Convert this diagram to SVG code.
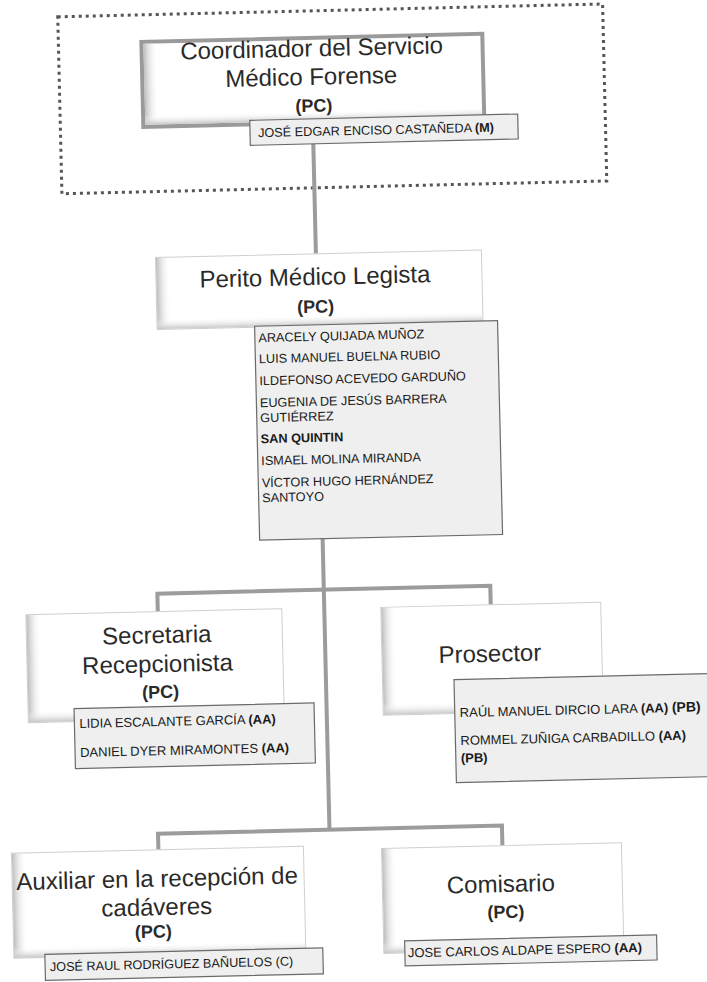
<svg xmlns="http://www.w3.org/2000/svg" width="707" height="982" viewBox="0 0 707 982">
<defs>
<style>
.t{font-family:"Liberation Sans",Arial,sans-serif;font-size:24px;fill:#2a2a2a;text-anchor:middle}
.pc{font-family:"Liberation Sans",Arial,sans-serif;font-size:18px;font-weight:bold;fill:#2a2a2a;text-anchor:middle}
.n{font-family:"Liberation Sans",Arial,sans-serif;font-size:12.7px;fill:#1a1a1a}
.n13{font-family:"Liberation Sans",Arial,sans-serif;font-size:13px;fill:#1a1a1a}
.b{font-weight:bold}
.box{fill:#ffffff;stroke:#cfcfcf;stroke-width:1}
.nb{fill:#efefef;stroke:#6a6a6a;stroke-width:1.2}
.conn{stroke:#9c9c9c;stroke-width:4;fill:none}
.gl{fill:url(#gl)}
.gb{fill:url(#gb)}
</style>
<linearGradient id="gl" x1="0" y1="0" x2="1" y2="0">
<stop offset="0" stop-color="#bdbdbd" stop-opacity="1"/>
<stop offset="1" stop-color="#ffffff" stop-opacity="0"/>
</linearGradient>
<linearGradient id="gb" x1="0" y1="0" x2="0" y2="1">
<stop offset="0" stop-color="#ffffff" stop-opacity="0"/>
<stop offset="1" stop-color="#c8c8c8" stop-opacity="1"/>
</linearGradient>
</defs>
<rect x="0" y="0" width="707" height="982" fill="#ffffff"/>
<g transform="rotate(-1.35 353 491)">
<rect id="frame" x="69" y="10" width="545" height="177" fill="none" stroke="#555" stroke-width="3" stroke-dasharray="3 4"/>
<g id="connectors">
<line class="conn" x1="321.5" y1="143" x2="321.5" y2="253"/>
<line class="conn" x1="321.5" y1="536" x2="321.5" y2="829"/>
<polyline class="conn" points="155,608 155,589 488,589 488,608"/>
<polyline class="conn" points="150,845 150,829 494,829 494,849"/>
</g>
<g id="coordinador">
<rect x="152" y="37" width="341" height="85" fill="#fff" stroke="#9a9a9a" stroke-width="4"/>
<rect class="gl" x="154" y="39" width="14" height="81"/>
<rect class="gb" x="154" y="110" width="337" height="10"/>
<text class="t" x="322" y="55.5">Coordinador del Servicio</text>
<text class="t" x="321" y="84">Médico Forense</text>
<text class="pc" x="323" y="111">(PC)</text>
</g>
<g id="coordinador-nombre">
<rect class="nb" x="258.5" y="118" width="268" height="25"/>
<text class="n" x="266.5" y="135">JOSÉ EDGAR ENCISO CASTAÑEDA <tspan class="b">(M)</tspan></text>
</g>
<g id="perito">
<rect class="box" x="161" y="253" width="326" height="72"/>
<rect class="gl" x="161.5" y="253.5" width="14" height="71"/>
<rect class="gb" x="161.5" y="314" width="325" height="10.5"/>
<text class="t" x="320" y="284">Perito Médico Legista</text>
<text class="pc" x="320" y="312">(PC)</text>
</g>
<g id="perito-nombres">
<rect class="nb" x="258.5" y="324" width="243" height="214"/>
<text class="n" x="262" y="340">ARACELY QUIJADA MUÑOZ</text>
<text class="n" x="262" y="361">LUIS MANUEL BUELNA RUBIO</text>
<text class="n" x="262" y="383">ILDEFONSO ACEVEDO GARDUÑO</text>
<text class="n" x="262" y="405">EUGENIA DE JESÚS BARRERA</text>
<text class="n" x="262" y="420">GUTIÉRREZ</text>
<text class="n b" x="262" y="441">SAN QUINTIN</text>
<text class="n" x="262" y="463">ISMAEL MOLINA MIRANDA</text>
<text class="n" x="262" y="485">VÍCTOR HUGO HERNÁNDEZ</text>
<text class="n" x="262" y="500">SANTOYO</text>
</g>
<g id="secretaria">
<rect class="box" x="23" y="607" width="256" height="108"/>
<rect class="gl" x="23.5" y="607.5" width="14" height="107"/>
<rect class="gb" x="23.5" y="703" width="255" height="11.5"/>
<text class="t" x="153.5" y="638.5">Secretaria</text>
<text class="t" x="153.5" y="667.5">Recepcionista</text>
<text class="pc" x="156" y="693.5">(PC)</text>
</g>
<g id="secretaria-nombres">
<rect class="nb" x="69" y="702" width="240" height="60"/>
<text class="n13" x="74" y="721.5">LIDIA ESCALANTE GARCÍA <tspan class="b">(AA)</tspan></text>
<text class="n13" x="74" y="750.5">DANIEL DYER MIRAMONTES <tspan class="b">(AA)</tspan></text>
</g>
<g id="prosector">
<rect class="box" x="378" y="608" width="220" height="108"/>
<rect class="gl" x="378.5" y="608.5" width="14" height="107"/>
<rect class="gb" x="378.5" y="704" width="219" height="11.5"/>
<text class="t" x="486" y="665">Prosector</text>
</g>
<g id="prosector-nombres">
<rect class="nb" x="449.5" y="682" width="262" height="103"/>
<text class="n13" x="454.5" y="719.5">RAÚL MANUEL DIRCIO LARA <tspan class="b">(AA)</tspan> <tspan class="b" font-size="14">(PB)</tspan></text>
<text class="n13" x="454.5" y="747.5">ROMMEL ZUÑIGA CARBADILLO <tspan class="b">(AA)</tspan></text>
<text class="n13 b" x="454.5" y="765" font-size="14">(PB)</text>
</g>
<g id="auxiliar">
<rect class="box" x="3" y="845" width="292" height="105"/>
<rect class="gl" x="3.5" y="845.5" width="14" height="104"/>
<rect class="gb" x="3.5" y="939" width="291" height="10.5"/>
<text class="t" x="148" y="882">Auxiliar en la recepción de</text>
<text class="t" x="147" y="910.5">cadáveres</text>
<text class="pc" x="143" y="933">(PC)</text>
</g>
<g id="auxiliar-nombre">
<rect class="nb" x="34" y="947" width="278" height="26"/>
<text class="n" x="38.7" y="964">JOSÉ RAUL RODRÍGUEZ BAÑUELOS (C)</text>
</g>
<g id="comisario">
<rect class="box" x="373" y="849" width="240" height="105"/>
<rect class="gl" x="373.5" y="849.5" width="14" height="104"/>
<rect class="gb" x="373.5" y="943" width="239" height="10.5"/>
<text class="t" x="491.5" y="895.5">Comisario</text>
<text class="pc" x="496" y="921.5">(PC)</text>
</g>
<g id="comisario-nombre">
<rect class="nb" x="394" y="942" width="252" height="25"/>
<text class="n13" x="397" y="958.5">JOSE CARLOS ALDAPE ESPERO <tspan class="b">(AA)</tspan></text>
</g>
</g>
</svg>
